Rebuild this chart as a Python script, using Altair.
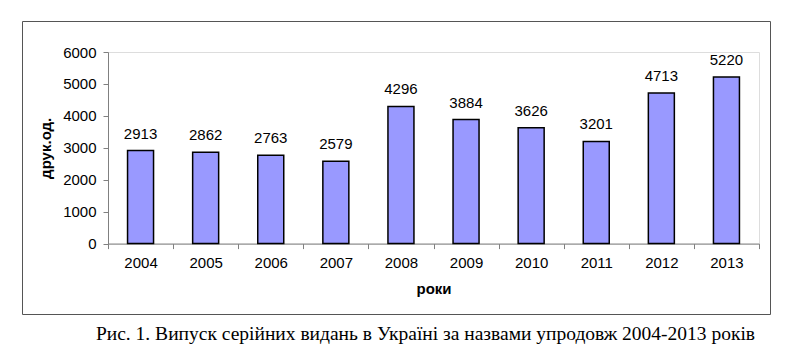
import altair as alt
import pandas as pd

years = ["2004", "2005", "2006", "2007", "2008", "2009", "2010", "2011", "2012", "2013"]
values = [2913, 2862, 2763, 2579, 4296, 3884, 3626, 3201, 4713, 5220]
y_ticks = [0, 1000, 2000, 3000, 4000, 5000, 6000]
y_title = "друк.од."
x_title = "роки"
caption = "Рис. 1. Випуск серійних видань в Україні за назвами упродовж 2004-2013 років"

df = pd.DataFrame({"year": years, "value": values})

W, H = 651, 191.6
PL, PT = 108, 52
FS = 15

x_enc = alt.X("year:N", sort=years, title=x_title,
              scale=alt.Scale(paddingInner=0, paddingOuter=0),
              axis=alt.Axis(labelAngle=0, tickBand="extent", domainColor="#808080",
                            tickColor="#808080", tickSize=5, labelPadding=7,
                            labelFont="Liberation Sans", labelFontSize=FS, labelColor="black",
                            titleFont="Liberation Sans", titleFontSize=FS, titleFontWeight="bold",
                            titleColor="black", titlePadding=11))
y_enc = alt.Y("value:Q", title=y_title,
              scale=alt.Scale(domain=[0, 6000], nice=False),
              axis=alt.Axis(values=y_ticks, format="d", labelOverlap=False, grid=False,
                            domainColor="#808080", tickColor="#808080", tickSize=5,
                            labelPadding=7, labelFont="Liberation Sans", labelFontSize=FS,
                            labelColor="black", titleFont="Liberation Sans", titleFontSize=FS,
                            titleFontWeight="bold", titleColor="black", titlePadding=9))

base = alt.Chart(df)
bars = base.mark_bar(size=26, color="#9999FF", stroke="black", strokeWidth=1.5).encode(x=x_enc, y=y_enc)
labels = base.mark_text(dy=-12, baseline="alphabetic", font="Liberation Sans", fontSize=FS,
                        color="black").encode(x=x_enc, y=y_enc, text="value:Q")

one = alt.Data(values=[{"a": 1}])
frame = alt.Chart(one).mark_rect(fill="transparent", stroke="#555555", strokeWidth=1).encode(
    x=alt.value(22.5 - PL), x2=alt.value(770.5 - PL),
    y=alt.value(21.5 - PT), y2=alt.value(314.5 - PT))
cap = alt.Chart(one).mark_text(font="Liberation Serif", fontSize=19.5, color="black",
                               align="center", baseline="alphabetic").encode(
    x=alt.value(425.5 - PL), y=alt.value(339.5 - PT), text=alt.value(caption))

chart = alt.layer(bars, labels, frame, cap).properties(
    width=W, height=H,
    autosize="none",
    padding={"left": PL, "top": PT, "right": 802 - PL - W, "bottom": 354 - PT - H},
).configure_view(stroke=None).configure(background="white")

chart.save("out.html", embed_options={"renderer": "svg", "actions": False})
